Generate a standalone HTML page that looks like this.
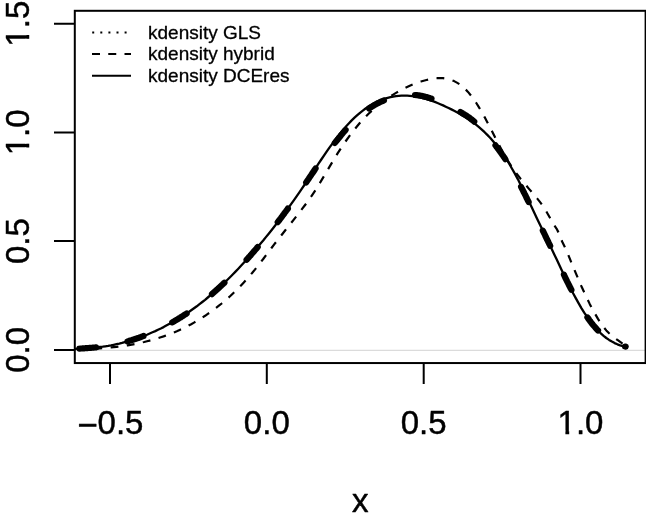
<!DOCTYPE html>
<html><head><meta charset="utf-8"><title>kdensity plot</title>
<style>
html,body{margin:0;padding:0;background:#fff;}
svg{display:block;}
text{font-family:"Liberation Sans",sans-serif;fill:#000;}
</style></head><body>
<svg width="646" height="519" viewBox="0 0 646 519">
<rect width="646" height="519" fill="#fff"/>
<clipPath id="c"><rect x="75" y="10.8" width="571" height="352.1"/></clipPath>
<g clip-path="url(#c)" fill="none" stroke="#000">
<line x1="75" y1="350.3" x2="646" y2="350.3" stroke="#d2d2d2" stroke-width="1"/>
<path d="M75.0,348.8 L77.8,348.7 L80.5,348.5 L83.3,348.4 L86.1,348.2 L88.8,348.0 L91.6,347.8 L94.4,347.5 L97.1,347.3 L99.9,347.0 L102.7,346.7 L105.4,346.3 L108.2,345.9 L111.0,345.4 L113.7,344.8 L116.5,344.2 L119.3,343.6 L122.0,342.9 L124.8,342.1 L127.6,341.4 L130.3,340.5 L133.1,339.7 L135.9,338.8 L138.6,337.8 L141.4,336.8 L144.2,335.8 L147.0,334.7 L149.7,333.5 L152.5,332.3 L155.3,331.1 L158.0,329.8 L160.8,328.5 L163.6,327.1 L166.3,325.6 L169.1,324.1 L171.9,322.6 L174.6,321.0 L177.4,319.3 L180.2,317.6 L182.9,315.9 L185.7,314.1 L188.5,312.2 L191.2,310.3 L194.0,308.3 L196.8,306.3 L199.5,304.2 L202.3,302.0 L205.1,299.8 L207.8,297.5 L210.6,295.2 L213.4,292.8 L216.1,290.4 L218.9,287.8 L221.7,285.3 L224.4,282.7 L227.2,280.0 L230.0,277.2 L232.7,274.5 L235.5,271.6 L238.3,268.7 L241.0,265.8 L243.8,262.8 L246.6,259.8 L249.3,256.7 L252.1,253.6 L254.9,250.4 L257.6,247.1 L260.4,243.8 L263.2,240.5 L265.9,237.1 L268.7,233.7 L271.5,230.2 L274.2,226.7 L277.0,223.1 L279.8,219.5 L282.6,215.8 L285.3,212.1 L288.1,208.3 L290.9,204.4 L293.6,200.6 L296.4,196.6 L299.2,192.6 L301.9,188.6 L304.7,184.5 L307.5,180.3 L310.2,176.1 L313.0,172.0 L315.8,167.8 L318.5,163.6 L321.3,159.5 L324.1,155.4 L326.8,151.4 L329.6,147.4 L332.4,143.6 L335.1,139.9 L337.9,136.3 L340.7,132.8 L343.4,129.5 L346.2,126.3 L349.0,123.3 L351.7,120.4 L354.5,117.7 L357.3,115.2 L360.0,112.8 L362.8,110.6 L365.6,108.5 L368.3,106.6 L371.1,104.9 L373.9,103.3 L376.6,101.9 L379.4,100.6 L382.2,99.5 L384.9,98.6 L387.7,97.8 L390.5,97.1 L393.2,96.6 L396.0,96.1 L398.8,95.9 L401.5,95.7 L404.3,95.7 L407.1,95.7 L409.8,95.9 L412.6,96.2 L415.4,96.6 L418.1,97.1 L420.9,97.7 L423.7,98.4 L426.5,99.1 L429.2,100.0 L432.0,100.9 L434.8,101.9 L437.5,103.0 L440.3,104.2 L443.1,105.4 L445.8,106.7 L448.6,108.0 L451.4,109.4 L454.1,110.8 L456.9,112.3 L459.7,113.8 L462.4,115.5 L465.2,117.1 L468.0,118.9 L470.7,120.8 L473.5,122.8 L476.3,124.9 L479.0,127.2 L481.8,129.6 L484.6,132.2 L487.3,134.9 L490.1,137.8 L492.9,140.9 L495.6,144.2 L498.4,147.8 L501.2,151.5 L503.9,155.5 L506.7,159.7 L509.5,164.2 L512.2,169.0 L515.0,173.9 L517.8,179.1 L520.5,184.5 L523.3,190.0 L526.1,195.6 L528.8,201.3 L531.6,207.1 L534.4,212.9 L537.1,218.7 L539.9,224.6 L542.7,230.3 L545.4,236.1 L548.2,241.8 L551.0,247.5 L553.7,253.3 L556.5,259.1 L559.3,265.0 L562.1,270.9 L564.8,276.6 L567.6,282.3 L570.4,287.8 L573.1,293.2 L575.9,298.4 L578.7,303.4 L581.4,308.1 L584.2,312.6 L587.0,316.7 L589.7,320.6 L592.5,324.2 L595.3,327.5 L598.0,330.5 L600.8,333.3 L603.6,335.8 L606.3,338.0 L609.1,339.9 L611.9,341.6 L614.6,343.1 L617.4,344.3 L620.2,345.3 L622.9,346.1 L625.7,346.6" stroke-width="2.3" stroke-linejoin="round"/>
<path d="M75.0,348.8 L75.7,348.7 L76.4,348.7 L77.1,348.7 L77.8,348.7 L78.4,348.6 L79.1,348.6 L79.8,348.6 L80.5,348.5 L81.2,348.5 L81.9,348.5 L82.6,348.4 L83.3,348.4 L84.0,348.3 L84.6,348.3 L85.3,348.2 L86.0,348.2 L86.7,348.1 L87.4,348.1 L88.1,348.0 L88.8,348.0 L89.5,347.9 L90.2,347.9 L90.9,347.8 L91.5,347.8 L92.2,347.7 L92.9,347.6 L93.6,347.6 L94.3,347.5 L95.0,347.5 L95.7,347.4 L96.4,347.3 L97.1,347.3 L97.7,347.2 L98.4,347.1 L99.1,347.1 L99.8,347.0 L100.5,346.9 L101.2,346.8 L101.9,346.8 L102.6,346.7 L103.3,346.6 L103.9,346.5 L104.6,346.4 L105.3,346.3 L106.0,346.2 L106.7,346.1 L107.4,346.0 L108.1,345.9 L108.8,345.8 L109.5,345.7 L110.2,345.5 L110.8,345.4 L111.5,345.3 L112.2,345.1 L112.9,345.0 L113.6,344.8 L114.3,344.7 L115.0,344.5 L115.7,344.4 L116.4,344.2 L117.0,344.1 L117.7,343.9 L118.4,343.8 L119.1,343.6 L119.8,343.4 L120.5,343.3 L121.2,343.1 L121.9,342.9 L122.6,342.7 L123.2,342.6 L123.9,342.4 L124.6,342.2 L125.3,342.0 L126.0,341.8 L126.7,341.6 L127.4,341.4 L128.1,341.2 L128.8,341.0 L129.4,340.8 L130.1,340.6 L130.8,340.4 L131.5,340.2 L132.2,340.0 L132.9,339.7 L133.6,339.5 L134.3,339.3 L135.0,339.1 L135.7,338.8 L136.3,338.6 L137.0,338.4 L137.7,338.1 L138.4,337.9 L139.1,337.7 L139.8,337.4 L140.5,337.2 L141.2,336.9 L141.9,336.6 L142.5,336.4 L143.2,336.1 L143.9,335.9 L144.6,335.6 L145.3,335.3 L146.0,335.1 L146.7,334.8 L147.4,334.5 L148.1,334.2 L148.7,333.9 L149.4,333.6 L150.1,333.3 L150.8,333.1 L151.5,332.8 L152.2,332.5 L152.9,332.2 L153.6,331.8 L154.3,331.5 L155.0,331.2 L155.6,330.9 L156.3,330.6 L157.0,330.3 L157.7,329.9 L158.4,329.6 L159.1,329.3 L159.8,329.0 L160.5,328.6 L161.2,328.3 L161.8,327.9 L162.5,327.6 L163.2,327.2 L163.9,326.9 L164.6,326.5 L165.3,326.2 L166.0,325.8 L166.7,325.4 L167.4,325.1 L168.0,324.7 L168.7,324.3 L169.4,323.9 L170.1,323.6 L170.8,323.2 L171.5,322.8 L172.2,322.4 L172.9,322.0 L173.6,321.6 L174.3,321.2 L174.9,320.8 L175.6,320.4 L176.3,320.0 L177.0,319.6 L177.7,319.2 L178.4,318.7 L179.1,318.3 L179.8,317.9 L180.5,317.5 L181.1,317.0 L181.8,316.6 L182.5,316.2 L183.2,315.7 L183.9,315.3 L184.6,314.8 L185.3,314.4 L186.0,313.9 L186.7,313.4 L187.3,313.0 L188.0,312.5 L188.7,312.0 L189.4,311.6 L190.1,311.1 L190.8,310.6 L191.5,310.1 L192.2,309.6 L192.9,309.1 L193.5,308.6 L194.2,308.1 L194.9,307.6 L195.6,307.1 L196.3,306.6 L197.0,306.1 L197.7,305.6 L198.4,305.1 L199.1,304.5 L199.8,304.0 L200.4,303.5 L201.1,303.0 L201.8,302.4 L202.5,301.9 L203.2,301.3 L203.9,300.8 L204.6,300.2 L205.3,299.7 L206.0,299.1 L206.6,298.5 L207.3,298.0 L208.0,297.4 L208.7,296.8 L209.4,296.2 L210.1,295.6 L210.8,295.1 L211.5,294.5 L212.2,293.9 L212.8,293.3 L213.5,292.7 L214.2,292.1 L214.9,291.4 L215.6,290.8 L216.3,290.2 L217.0,289.6 L217.7,289.0 L218.4,288.3 L219.1,287.7 L219.7,287.1 L220.4,286.4 L221.1,285.8 L221.8,285.1 L222.5,284.5 L223.2,283.8 L223.9,283.2 L224.6,282.5 L225.3,281.9 L225.9,281.2 L226.6,280.5 L227.3,279.9 L228.0,279.2 L228.7,278.5 L229.4,277.8 L230.1,277.1 L230.8,276.4 L231.5,275.8 L232.1,275.1 L232.8,274.4 L233.5,273.7 L234.2,273.0 L234.9,272.2 L235.6,271.5 L236.3,270.8 L237.0,270.1 L237.7,269.4 L238.3,268.7 L239.0,267.9 L239.7,267.2 L240.4,266.5 L241.1,265.7 L241.8,265.0 L242.5,264.2 L243.2,263.5 L243.9,262.8 L244.6,262.0 L245.2,261.2 L245.9,260.5 L246.6,259.7 L247.3,259.0 L248.0,258.2 L248.7,257.4 L249.4,256.6 L250.1,255.9 L250.8,255.1 L251.4,254.3 L252.1,253.5 L252.8,252.7 L253.5,251.9 L254.2,251.1 L254.9,250.3 L255.6,249.5 L256.3,248.7 L257.0,247.9 L257.6,247.1 L258.3,246.3 L259.0,245.5 L259.7,244.7 L260.4,243.9 L261.1,243.0 L261.8,242.2 L262.5,241.4 L263.2,240.5 L263.9,239.7 L264.5,238.9 L265.2,238.0 L265.9,237.2 L266.6,236.3 L267.3,235.5 L268.0,234.6 L268.7,233.7 L269.4,232.9 L270.1,232.0 L270.7,231.2 L271.4,230.3 L272.1,229.4 L272.8,228.5 L273.5,227.6 L274.2,226.8 L274.9,225.9 L275.6,225.0 L276.3,224.1 L276.9,223.2 L277.6,222.3 L278.3,221.4 L279.0,220.5 L279.7,219.6 L280.4,218.7 L281.1,217.8 L281.8,216.8 L282.5,215.9 L283.1,215.0 L283.8,214.1 L284.5,213.1 L285.2,212.2 L285.9,211.3 L286.6,210.3 L287.3,209.4 L288.0,208.4 L288.7,207.5 L289.4,206.5 L290.0,205.6 L290.7,204.6 L291.4,203.7 L292.1,202.7 L292.8,201.7 L293.5,200.8 L294.2,199.8 L294.9,198.8 L295.6,197.8 L296.2,196.8 L296.9,195.9 L297.6,194.9 L298.3,193.9 L299.0,192.9 L299.7,191.9 L300.4,190.9 L301.1,189.9 L301.8,188.9 L302.4,187.9 L303.1,186.9 L303.8,185.9 L304.5,184.9 L305.2,183.9 L305.9,182.8 L306.6,181.8 L307.3,180.8 L308.0,179.8 L308.7,178.8 L309.3,177.7 L310.0,176.7 L310.7,175.7 L311.4,174.7 L312.1,173.6 L312.8,172.6 L313.5,171.6 L314.2,170.6 L314.9,169.5 L315.5,168.5 L316.2,167.5 L316.9,166.5 L317.6,165.5 L318.3,164.5 L319.0,163.6 L319.7,162.6 L320.4,161.6 L321.1,160.7 L321.7,159.8 L322.4,158.8 L323.1,157.9 L323.8,157.0 L324.5,156.1 L325.2,155.2 L325.9,154.3 L326.6,153.4 L327.3,152.5 L327.9,151.6 L328.6,150.7 L329.3,149.9 L330.0,149.0 L330.7,148.1 L331.4,147.3 L332.1,146.4 L332.8,145.5 L333.5,144.7 L334.2,143.8 L334.8,143.0 L335.5,142.1 L336.2,141.3 L336.9,140.4 L337.6,139.6 L338.3,138.7 L339.0,137.9 L339.7,137.0 L340.4,136.2 L341.0,135.3 L341.7,134.5 L342.4,133.7 L343.1,132.8 L343.8,132.0 L344.5,131.2 L345.2,130.4 L345.9,129.6 L346.6,128.9 L347.2,128.1 L347.9,127.3 L348.6,126.6 L349.3,125.8 L350.0,125.1 L350.7,124.4 L351.4,123.6 L352.1,122.9 L352.8,122.2 L353.5,121.5 L354.1,120.9 L354.8,120.2 L355.5,119.5 L356.2,118.9 L356.9,118.2 L357.6,117.6 L358.3,117.0 L359.0,116.3 L359.7,115.7 L360.3,115.1 L361.0,114.6 L361.7,114.0 L362.4,113.4 L363.1,112.9 L363.8,112.3 L364.5,111.8 L365.2,111.2 L365.9,110.7 L366.5,110.2 L367.2,109.7 L367.9,109.2 L368.6,108.7 L369.3,108.3 L370.0,107.8 L370.7,107.4 L371.4,106.9 L372.1,106.5 L372.8,106.1 L373.4,105.7 L374.1,105.3 L374.8,104.9 L375.5,104.5 L376.2,104.1 L376.9,103.7 L377.6,103.4 L378.3,103.0 L379.0,102.7 L379.6,102.4 L380.3,102.0 L381.0,101.7 L381.7,101.4 L382.4,101.1 L383.1,100.8 L383.8,100.5 L384.5,100.2 L385.2,99.9 L385.8,99.6 L386.5,99.4 L387.2,99.1 L387.9,98.9 L388.6,98.6 L389.3,98.4 L390.0,98.1 L390.7,97.9 L391.4,97.7 L392.0,97.5 L392.7,97.3 L393.4,97.1 L394.1,96.9 L394.8,96.8 L395.5,96.6 L396.2,96.5 L396.9,96.3 L397.6,96.2 L398.3,96.1 L398.9,95.9 L399.6,95.8 L400.3,95.7 L401.0,95.6 L401.7,95.5 L402.4,95.4 L403.1,95.4 L403.8,95.3 L404.5,95.2 L405.1,95.2 L405.8,95.1 L406.5,95.0 L407.2,95.0 L407.9,94.9 L408.6,94.9 L409.3,94.9 L410.0,94.9 L410.7,94.9 L411.3,94.9 L412.0,94.9 L412.7,94.9 L413.4,94.9 L414.1,94.9 L414.8,95.0 L415.5,95.0 L416.2,95.1 L416.9,95.1 L417.6,95.2 L418.2,95.3 L418.9,95.4 L419.6,95.5 L420.3,95.6 L421.0,95.7 L421.7,95.9 L422.4,96.0 L423.1,96.2 L423.8,96.4 L424.4,96.5 L425.1,96.7 L425.8,96.9 L426.5,97.1 L427.2,97.3 L427.9,97.5 L428.6,97.7 L429.3,97.9 L430.0,98.2 L430.6,98.4 L431.3,98.6 L432.0,98.9 L432.7,99.1 L433.4,99.3 L434.1,99.6 L434.8,99.8 L435.5,100.1 L436.2,100.4 L436.8,100.6 L437.5,100.9 L438.2,101.2 L438.9,101.5 L439.6,101.7 L440.3,102.0 L441.0,102.3 L441.7,102.6 L442.4,102.9 L443.1,103.2 L443.7,103.5 L444.4,103.9 L445.1,104.2 L445.8,104.5 L446.5,104.8 L447.2,105.1 L447.9,105.5 L448.6,105.8 L449.3,106.1 L449.9,106.5 L450.6,106.8 L451.3,107.2 L452.0,107.5 L452.7,107.9 L453.4,108.2 L454.1,108.6 L454.8,109.0 L455.5,109.3 L456.1,109.7 L456.8,110.1 L457.5,110.5 L458.2,110.8 L458.9,111.2 L459.6,111.6 L460.3,112.0 L461.0,112.4 L461.7,112.8 L462.4,113.2 L463.0,113.6 L463.7,114.0 L464.4,114.5 L465.1,114.9 L465.8,115.3 L466.5,115.8 L467.2,116.2 L467.9,116.7 L468.6,117.2 L469.2,117.6 L469.9,118.1 L470.6,118.7 L471.3,119.2 L472.0,119.8 L472.7,120.3 L473.4,120.9 L474.1,121.5 L474.8,122.1 L475.4,122.7 L476.1,123.3 L476.8,124.0 L477.5,124.6 L478.2,125.3 L478.9,126.0 L479.6,126.6 L480.3,127.3 L481.0,128.0 L481.6,128.8 L482.3,129.5 L483.0,130.2 L483.7,130.9 L484.4,131.7 L485.1,132.5 L485.8,133.2 L486.5,134.0 L487.2,134.8 L487.9,135.6 L488.5,136.4 L489.2,137.2 L489.9,138.0 L490.6,138.9 L491.3,139.8 L492.0,140.7 L492.7,141.6 L493.4,142.5 L494.1,143.4 L494.7,144.3 L495.4,145.3 L496.1,146.2 L496.8,147.2 L497.5,148.1 L498.2,149.0 L498.9,150.0 L499.6,150.9 L500.3,151.9 L500.9,152.8 L501.6,153.8 L502.3,154.8 L503.0,155.7 L503.7,156.8 L504.4,157.8 L505.1,158.8 L505.8,159.9 L506.5,160.9 L507.2,162.0 L507.8,163.1 L508.5,164.2 L509.2,165.3 L509.9,166.5 L510.6,167.6 L511.3,168.8 L512.0,170.0 L512.7,171.2 L513.4,172.4 L514.0,173.6 L514.7,174.9 L515.4,176.1 L516.1,177.4 L516.8,178.7 L517.5,180.0 L518.2,181.3 L518.9,182.6 L519.6,183.9 L520.2,185.2 L520.9,186.5 L521.6,187.9 L522.3,189.2 L523.0,190.6 L523.7,192.0 L524.4,193.4 L525.1,194.7 L525.8,196.1 L526.4,197.5 L527.1,198.9 L527.8,200.3 L528.5,201.7 L529.2,203.1 L529.9,204.4 L530.6,205.8 L531.3,207.2 L532.0,208.6 L532.7,210.0 L533.3,211.4 L534.0,212.8 L534.7,214.2 L535.4,215.6 L536.1,217.0 L536.8,218.4 L537.5,219.8 L538.2,221.2 L538.9,222.6 L539.5,224.0 L540.2,225.4 L540.9,226.8 L541.6,228.2 L542.3,229.6 L543.0,231.0 L543.7,232.4 L544.4,233.8 L545.1,235.3 L545.7,236.7 L546.4,238.1 L547.1,239.5 L547.8,240.9 L548.5,242.4 L549.2,243.8 L549.9,245.2 L550.6,246.6 L551.3,248.1 L552.0,249.5 L552.6,250.9 L553.3,252.4 L554.0,253.8 L554.7,255.3 L555.4,256.8 L556.1,258.2 L556.8,259.7 L557.5,261.1 L558.2,262.6 L558.8,264.1 L559.5,265.5 L560.2,267.0 L560.9,268.5 L561.6,269.9 L562.3,271.4 L563.0,272.8 L563.7,274.2 L564.4,275.7 L565.0,277.1 L565.7,278.5 L566.4,279.9 L567.1,281.4 L567.8,282.7 L568.5,284.1 L569.2,285.5 L569.9,286.9 L570.6,288.3 L571.3,289.6 L571.9,290.9 L572.6,292.3 L573.3,293.6 L574.0,294.9 L574.7,296.2 L575.4,297.5 L576.1,298.7 L576.8,300.0 L577.5,301.2 L578.1,302.5 L578.8,303.7 L579.5,304.9 L580.2,306.1 L580.9,307.2 L581.6,308.4 L582.3,309.5 L583.0,310.6 L583.7,311.7 L584.3,312.8 L585.0,313.9 L585.7,314.9 L586.4,315.9 L587.1,317.0 L587.8,317.9 L588.5,318.9 L589.2,319.9 L589.9,320.8 L590.5,321.7 L591.2,322.6 L591.9,323.5 L592.6,324.4 L593.3,325.2 L594.0,326.0 L594.7,326.8 L595.4,327.6 L596.1,328.4 L596.8,329.2 L597.4,329.9 L598.1,330.6 L598.8,331.3 L599.5,332.0 L600.2,332.7 L600.9,333.4 L601.6,334.0 L602.3,334.6 L603.0,335.2 L603.6,335.8 L604.3,336.4 L605.0,337.0 L605.7,337.5 L606.4,338.0 L607.1,338.5 L607.8,339.0 L608.5,339.5 L609.2,340.0 L609.8,340.4 L610.5,340.9 L611.2,341.3 L611.9,341.7 L612.6,342.1 L613.3,342.4 L614.0,342.8 L614.7,343.1 L615.4,343.5 L616.1,343.8 L616.7,344.1 L617.4,344.3 L618.1,344.6 L618.8,344.9 L619.5,345.1 L620.2,345.3 L620.9,345.5 L621.6,345.7 L622.3,345.9 L622.9,346.1 L623.6,346.2 L624.3,346.4 L625.0,346.5 L625.7,346.6" stroke-width="6.2" stroke-linecap="round" stroke-linejoin="round" stroke-dasharray="16.90 31.950" stroke-dashoffset="-4.4"/>
<path d="M75.0,349.2 L77.8,349.2 L80.5,349.1 L83.3,349.1 L86.1,349.0 L88.8,348.9 L91.6,348.8 L94.4,348.7 L97.1,348.6 L99.9,348.4 L102.7,348.2 L105.4,348.0 L108.2,347.7 L111.0,347.4 L113.7,347.1 L116.5,346.8 L119.3,346.5 L122.0,346.1 L124.8,345.7 L127.6,345.3 L130.3,344.8 L133.1,344.3 L135.9,343.8 L138.6,343.2 L141.4,342.6 L144.2,342.0 L147.0,341.3 L149.7,340.6 L152.5,339.9 L155.3,339.1 L158.0,338.2 L160.8,337.3 L163.6,336.4 L166.3,335.4 L169.1,334.4 L171.9,333.3 L174.6,332.2 L177.4,331.0 L180.2,329.7 L182.9,328.4 L185.7,327.1 L188.5,325.6 L191.2,324.2 L194.0,322.6 L196.8,321.0 L199.5,319.3 L202.3,317.6 L205.1,315.8 L207.8,313.9 L210.6,312.0 L213.4,310.0 L216.1,307.9 L218.9,305.7 L221.7,303.5 L224.4,301.2 L227.2,298.8 L230.0,296.3 L232.7,293.7 L235.5,291.0 L238.3,288.2 L241.0,285.4 L243.8,282.4 L246.6,279.4 L249.3,276.2 L252.1,273.0 L254.9,269.6 L257.6,266.1 L260.4,262.6 L263.2,259.0 L265.9,255.3 L268.7,251.7 L271.5,248.0 L274.2,244.4 L277.0,240.8 L279.8,237.3 L282.6,233.7 L285.3,230.3 L288.1,226.8 L290.9,223.3 L293.6,219.8 L296.4,216.3 L299.2,212.7 L301.9,209.2 L304.7,205.5 L307.5,201.8 L310.2,197.9 L313.0,193.8 L315.8,189.6 L318.5,185.1 L321.3,180.6 L324.1,176.0 L326.8,171.3 L329.6,166.6 L332.4,162.0 L335.1,157.4 L337.9,152.9 L340.7,148.6 L343.4,144.5 L346.2,140.5 L349.0,136.6 L351.7,132.9 L354.5,129.4 L357.3,126.0 L360.0,122.8 L362.8,119.7 L365.6,116.8 L368.3,114.0 L371.1,111.4 L373.9,108.9 L376.6,106.5 L379.4,104.2 L382.2,102.1 L384.9,100.1 L387.7,98.1 L390.5,96.3 L393.2,94.6 L396.0,92.9 L398.8,91.3 L401.5,89.8 L404.3,88.3 L407.1,87.0 L409.8,85.7 L412.6,84.5 L415.4,83.4 L418.1,82.4 L420.9,81.5 L423.7,80.7 L426.5,80.0 L429.2,79.3 L432.0,78.8 L434.8,78.4 L437.5,78.2 L440.3,78.1 L443.1,78.2 L445.8,78.6 L448.6,79.1 L451.4,80.0 L454.1,81.1 L456.9,82.6 L459.7,84.3 L462.4,86.5 L465.2,89.0 L468.0,91.9 L470.7,95.2 L473.5,98.9 L476.3,103.0 L479.0,107.4 L481.8,112.1 L484.6,117.1 L487.3,122.2 L490.1,127.5 L492.9,133.0 L495.6,138.4 L498.4,143.8 L501.2,149.1 L503.9,154.1 L506.7,158.9 L509.5,163.4 L512.2,167.6 L515.0,171.5 L517.8,175.2 L520.5,178.7 L523.3,182.1 L526.1,185.4 L528.8,188.6 L531.6,191.8 L534.4,195.1 L537.1,198.4 L539.9,201.9 L542.7,205.7 L545.4,209.9 L548.2,214.7 L551.0,219.8 L553.7,224.5 L556.5,228.6 L559.3,234.0 L562.1,241.5 L564.8,247.0 L567.6,253.2 L570.4,260.1 L573.1,266.8 L575.9,273.4 L578.7,279.9 L581.4,286.2 L584.2,292.3 L587.0,298.2 L589.7,303.9 L592.5,309.2 L595.3,314.2 L598.0,318.9 L600.8,323.2 L603.6,327.1 L606.3,330.4 L609.1,333.3 L611.9,335.8 L614.6,338.0 L617.4,339.9 L620.2,341.9 L622.9,343.8 L625.7,346.0" stroke-width="2.2" stroke-dasharray="7.8 8.5" stroke-dashoffset="-3.1" stroke-linejoin="round"/>
</g>
<g fill="none" stroke="#000" stroke-width="2">
<rect x="74.8" y="10.8" width="570.8" height="352.25"/>
<path d="M110,363V384 M266.8,363V384 M423.7,363V384 M580.5,363V384"/>
<path d="M54,23.7H75 M54,132.4H75 M54,241.1H75 M54,349.9H75"/>
<path d="M92.2,32.4H131" stroke-dasharray="2 6.1"/>
<path d="M92,54H131" stroke-dasharray="8 8.25"/>
<path d="M92,75.7H131"/>
</g>
<g font-size="33px" text-anchor="middle" stroke="#000" stroke-width="0.45" stroke-linejoin="round">
<text x="110.3" y="433.7"><tspan font-size="35px" dy="3.1">−</tspan><tspan dy="-3.1">0.5</tspan></text>
<text x="266.8" y="433.7">0.0</text>
<text x="423.7" y="433.7">0.5</text>
<g transform="translate(580.5,433.7)"><text>1.0</text><rect x="-22.6" y="-3.1" width="7.5" height="5" fill="#fff" stroke="none"/><rect x="-11.3" y="-3.1" width="6.3" height="5" fill="#fff" stroke="none"/></g>
<text x="360.2" y="511.9">x</text>
<g transform="translate(28.5,23.7) rotate(-90)"><text>1.5</text><rect x="-22.6" y="-3.1" width="7.5" height="5" fill="#fff" stroke="none"/><rect x="-11.3" y="-3.1" width="6.3" height="5" fill="#fff" stroke="none"/></g>
<g transform="translate(28.5,132.4) rotate(-90)"><text>1.0</text><rect x="-22.6" y="-3.1" width="7.5" height="5" fill="#fff" stroke="none"/><rect x="-11.3" y="-3.1" width="6.3" height="5" fill="#fff" stroke="none"/></g>
<text transform="translate(28.5,241.1) rotate(-90)">0.5</text>
<text transform="translate(28.5,349.9) rotate(-90)">0.0</text>
</g>
<g font-size="19px" stroke="#000" stroke-width="0.3" stroke-linejoin="round">
<text x="148" y="38.7">kdensity GLS</text>
<text x="148" y="60.2">kdensity hybrid</text>
<text x="148" y="81.6">kdensity DCEres</text>
</g>
</svg>
</body></html>
